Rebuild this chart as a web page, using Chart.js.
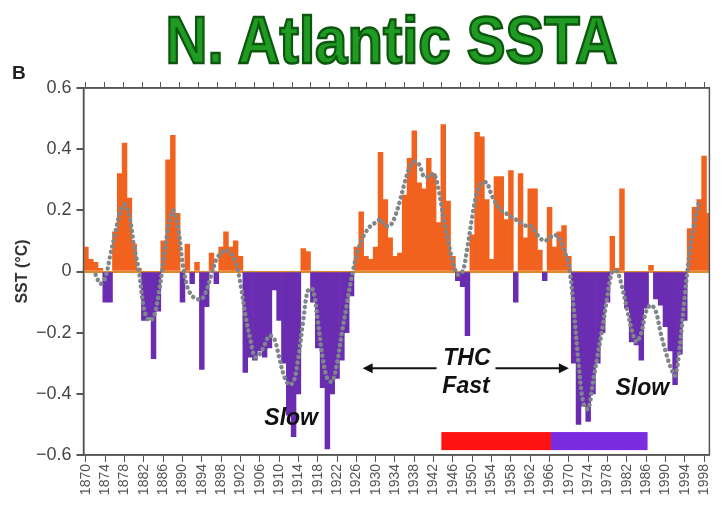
<!DOCTYPE html>
<html>
<head>
<meta charset="utf-8">
<script src="https://cdn.jsdelivr.net/npm/chart.js@4"></script>
<style>
  html, body { margin: 0; padding: 0; background: #fff; }
  #wrap { position: relative; width: 723px; height: 514px; overflow: hidden; }
  #title {
    position: absolute; left: 30px; top: 0; width: 723px; text-align: center;
    font: bold 66px "Liberation Sans", Arial, sans-serif; line-height: 80px;
    color: #1f9a22; -webkit-text-stroke: 2.5px #0c560e;
    transform: scaleX(0.88); transform-origin: 361.5px 0;
  }
  #panel { position: absolute; left: 12px; top: 62px; font: bold 19px "Liberation Sans", Arial, sans-serif; color: #222; }
  canvas { position: absolute; left: 0; top: 0; }
</style>
</head>
<body>
<div id="wrap">
  <canvas id="ssta" width="723" height="514"></canvas>
  <div id="title">N. Atlantic SSTA</div>
  <div id="panel">B</div>
</div>
<script>
// yearly North Atlantic SST anomaly, 1870-1999 (deg C)
const firstYear = 1870;
const sstValues = [
  0.08, 0.04, 0.03, 0.01, -0.10, -0.10, 0.13, 0.32, 0.42, 0.24,          // 1870s
  0.09, 0.01, -0.16, -0.15, -0.285, -0.13, 0.10, 0.365, 0.445, 0.19,     // 1880s
  -0.10, 0.09, -0.04, 0.03, -0.32, -0.115, 0.06, -0.04, 0.08, 0.13,      // 1890s
  0.08, 0.10, 0.05, -0.33, -0.28, -0.29, -0.26, -0.28, -0.25, -0.06,     // 1900s
  -0.16, -0.30, -0.47, -0.54, -0.40, 0.075, 0.065, -0.10, -0.25, -0.38,  // 1910s
  -0.58, -0.40, -0.35, -0.29, -0.20, -0.08, 0.08, 0.195, 0.05, 0.04,     // 1920s
  0.08, 0.39, 0.235, 0.11, 0.05, 0.06, 0.25, 0.37, 0.46, 0.29,           // 1930s
  0.27, 0.37, 0.32, 0.16, 0.48, 0.23, 0.05, -0.03, -0.05, -0.21,         // 1940s
  0.12, 0.455, 0.44, 0.235, 0.04, 0.31, 0.31, 0.17, 0.33, -0.10,         // 1950s
  0.32, 0.11, 0.27, 0.27, 0.07, -0.03, 0.21, 0.08, 0.13, 0.15,           // 1960s
  0.05, -0.30, -0.50, -0.44, -0.49, -0.40, -0.30, -0.20, -0.10, 0.115,   // 1970s
  0.01, 0.27, -0.12, -0.23, -0.24, -0.29, -0.12, 0.02, -0.09, -0.11,     // 1980s
  -0.18, -0.26, -0.37, -0.27, -0.16, 0.14, 0.21, 0.235, 0.377, 0.19      // 1990s
];
// smoothed curve (grey dotted line), null where it is not drawn
const smoothValues = [
  null, null, -0.01, -0.04, -0.02, 0.05, 0.12, 0.19, 0.22, 0.18,
  0.08, 0.00, -0.12, -0.16, -0.15, -0.08, 0.03, 0.14, 0.20, 0.15,
  0.03, -0.05, -0.08, -0.09, -0.09, -0.06, -0.01, 0.04, 0.06, 0.07,
  0.06, 0.03, -0.04, -0.14, -0.22, -0.28, -0.27, -0.24, -0.21, -0.22,
  -0.28, -0.34, -0.37, -0.36, -0.28, -0.16, -0.06, -0.06, -0.16, -0.28,
  -0.35, -0.36, -0.30, -0.20, -0.11, -0.02, 0.05, 0.10, 0.13, 0.15,
  0.16, 0.17, 0.15, 0.15, 0.18, 0.23, 0.29, 0.34, 0.36, 0.35,
  0.31, 0.31, 0.32, 0.27, 0.18, 0.10, 0.03, -0.01, 0.00, 0.08,
  0.18, 0.26, 0.29, 0.29, 0.25, 0.22, 0.20, 0.19, 0.18, 0.17,
  0.16, 0.15, 0.15, 0.13, 0.11, 0.10, 0.11, 0.12, 0.11, 0.07,
  0.02, -0.12, -0.30, -0.43, -0.45, -0.36, -0.27, -0.18, -0.08, 0.00,
  0.00, -0.05, -0.12, -0.19, -0.23, -0.20, -0.13, -0.11, -0.13, -0.20,
  -0.26, -0.31, -0.34, -0.24, -0.08, 0.06, 0.16, 0.23, null, null
];
const years = sstValues.map((_, i) => firstYear + i);
const xTickYears = [1870, 1874, 1878, 1882, 1886, 1890, 1894, 1898, 1902, 1906, 1910,
  1914, 1918, 1922, 1926, 1930, 1934, 1938, 1942, 1946, 1950, 1954, 1958, 1962,
  1966, 1970, 1974, 1978, 1982, 1986, 1990, 1994, 1998];
const yTickValues = [0.6, 0.4, 0.2, 0, -0.2, -0.4, -0.6];

// THC phases shown as coloured strips at the bottom
const fastPeriod = [1943.6, 1966.3];
const slowPeriod = [1966.3, 1986.3];

const ORANGE = '#f2621f';
const PURPLE = '#6a2db2';

const notes = [
  { text: 'THC', x: 1948.9, y: -0.286 },
  { text: 'Fast', x: 1948.7, y: -0.378 },
  { text: 'Slow', x: 1912.5, y: -0.482 },
  { text: 'Slow', x: 1985.2, y: -0.384 }
];

function drawArrow(ctx, x1, x2, yPx) {
  const dir = Math.sign(x2 - x1);
  ctx.beginPath();
  ctx.moveTo(x1, yPx);
  ctx.lineTo(x2 - dir * 6, yPx);
  ctx.stroke();
  ctx.beginPath();
  ctx.moveTo(x2, yPx);
  ctx.lineTo(x2 - dir * 10, yPx - 5);
  ctx.lineTo(x2 - dir * 10, yPx + 5);
  ctx.closePath();
  ctx.fill();
}

const extras = {
  id: 'extras',
  afterDatasetsDraw(chart) {
    const { ctx, chartArea: a, scales: { x, y } } = chart;
    ctx.save();
    // phase strips
    const yTop = y.getPixelForValue(-0.525), yBot = y.getPixelForValue(-0.584);
    ctx.fillStyle = '#ff1212';
    ctx.fillRect(x.getPixelForValue(fastPeriod[0]), yTop, x.getPixelForValue(fastPeriod[1]) - x.getPixelForValue(fastPeriod[0]), yBot - yTop);
    ctx.fillStyle = '#7a2de0';
    ctx.fillRect(x.getPixelForValue(slowPeriod[0]), yTop, x.getPixelForValue(slowPeriod[1]) - x.getPixelForValue(slowPeriod[0]), yBot - yTop);
    // arrows
    ctx.strokeStyle = '#111';
    ctx.fillStyle = '#111';
    ctx.lineWidth = 2;
    const ay = y.getPixelForValue(-0.316);
    drawArrow(ctx, x.getPixelForValue(1942.6), x.getPixelForValue(1927.3), ay);
    drawArrow(ctx, x.getPixelForValue(1954.8), x.getPixelForValue(1970.0), ay);
    // labels
    ctx.font = 'italic bold 23px "Liberation Sans", Arial, sans-serif';
    ctx.textAlign = 'center';
    ctx.textBaseline = 'middle';
    notes.forEach(n => ctx.fillText(n.text, x.getPixelForValue(n.x), y.getPixelForValue(n.y)));
    // frame
    ctx.strokeStyle = '#555';
    ctx.lineWidth = 1.5;
    ctx.strokeRect(a.left, a.top, a.right - a.left, a.bottom - a.top);
    ctx.restore();
  }
};

const setTicks = list => scale => { scale.ticks = list.map(v => ({ value: v })); };

new Chart(document.getElementById('ssta'), {
  type: 'bar',
  data: {
    datasets: [
      {
        type: 'line',
        data: years.map((yr, i) => ({ x: yr, y: smoothValues[i] })),
        borderColor: '#80878a',
        borderWidth: 4.5,
        borderDash: [0.1, 5.5],
        borderCapStyle: 'round',
        pointRadius: 0,
        tension: 0.35,
        spanGaps: false,
        order: 1
      },
      {
        data: years.map((yr, i) => ({ x: yr, y: sstValues[i] })),
        backgroundColor: sstValues.map(v => v >= 0 ? ORANGE : PURPLE),
        borderWidth: 0,
        barPercentage: 1,
        categoryPercentage: 1,
        order: 2
      }
    ]
  },
  options: {
    responsive: false,
    animation: false,
    layout: { padding: { left: 0, right: 2.5, top: 0, bottom: 0 } },
    plugins: { legend: { display: false }, tooltip: { enabled: false } },
    scales: {
      x: {
        type: 'linear',
        position: 'bottom',
        min: 1869.5,
        max: 1999.1,
        offset: false,
        afterBuildTicks: setTicks(xTickYears),
        afterFit: s => { s.height = 59; },
        grid: { drawOnChartArea: false, offset: false, color: '#555', tickLength: 7 },
        border: { color: '#555', width: 1.5 },
        ticks: {
          autoSkip: false, minRotation: 90, maxRotation: 90, padding: 2,
          color: '#555', font: { family: '"Liberation Sans", Arial, sans-serif', size: 14 },
          callback: v => String(v)
        }
      },
      xTop: {
        type: 'linear',
        position: 'top',
        min: 1869.5,
        max: 1999.1,
        afterBuildTicks: setTicks(xTickYears),
        afterFit: s => { s.height = 88; },
        grid: { drawOnChartArea: false, color: '#555', tickLength: 6 },
        border: { color: '#555', width: 1.5 },
        ticks: { display: false }
      },
      y: {
        min: -0.6,
        max: 0.6,
        afterBuildTicks: setTicks(yTickValues),
        afterFit: s => { s.width = 83.5; },
        grid: {
          color: c => c.tick && c.tick.value === 0 ? '#dc8a2c' : 'transparent',
          lineWidth: 2,
          tickColor: '#555',
          tickLength: 7
        },
        border: { color: '#555', width: 1.5 },
        ticks: {
          padding: 5, color: '#444',
          font: { family: '"Liberation Sans", Arial, sans-serif', size: 18 },
          callback: v => v === 0 ? '0' : (v < 0 ? '\u2212' : '') + Math.abs(v).toFixed(1)
        },
        title: {
          display: true, text: 'SST (°C)', color: '#333',
          font: { family: '"Liberation Sans", Arial, sans-serif', size: 16, weight: 'bold' },
          padding: { top: 13, bottom: 0 }
        }
      }
    }
  },
  plugins: [extras]
});
</script>
</body>
</html>
